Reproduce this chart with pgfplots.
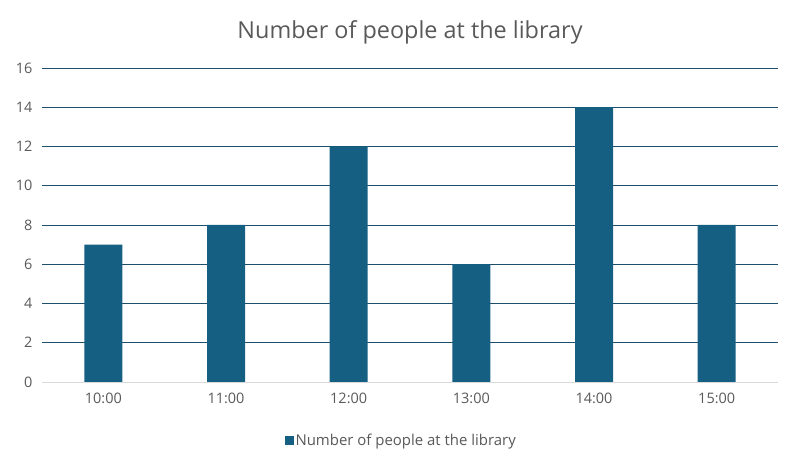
\documentclass[border=0pt]{standalone}
\usepackage{pgfplots}
\pgfplotsset{compat=1.18}
\usepackage{fontspec}
\setmainfont{Open Sans}
\definecolor{barcol}{HTML}{156082}
\definecolor{gridcol}{HTML}{1E4F6C}
\definecolor{txtcol}{HTML}{595959}
\definecolor{basecol}{HTML}{D9D9D9}
\begin{document}
\begin{tikzpicture}[x=1bp,y=1bp]
\path (0,0) rectangle (793,456);
\begin{axis}[
  at={(42bp,74bp)}, anchor=south west,
  scale only axis, width=736bp, height=314bp,
  xmin=-0.5, xmax=5.5, ymin=0, ymax=16,
  ytick={0,2,...,16},
  xtick=data,
  xticklabels={10:00,11:00,12:00,13:00,14:00,15:00},
  ybar, bar width=38bp,
  axis x line*=bottom, axis y line*=left,
  x axis line style={draw=basecol, line width=0.8bp, -},
  y axis line style={draw=none},
  major tick length=0pt,
  ymajorgrids, grid style={draw=gridcol, line width=0.8bp},
  tick label style={font=\fontsize{14.5}{16}\selectfont, text=txtcol},
  /pgf/number format/assume math mode=true,
  yticklabel style={xshift=-6bp},
  xticklabel style={yshift=-8bp},
  title={Number of people at the library},
  title style={font=\fontsize{23.5}{28}\selectfont, text=txtcol, anchor=center, at={(0.5,1)}, yshift=30bp},
  legend style={at={(0.488,-0.185)}, anchor=center, draw=none, font=\fontsize{15}{17}\selectfont, text=txtcol,
    legend cell align=left},
  legend image code/.code={\fill[barcol] (0bp,-4.5bp) rectangle (9bp,4.5bp);},
]
\addplot[fill=barcol, draw=none] coordinates {(0,7) (1,8) (2,12) (3,6) (4,14) (5,8)};
\addlegendentry{Number of people at the library}
\end{axis}
\end{tikzpicture}
\end{document}
